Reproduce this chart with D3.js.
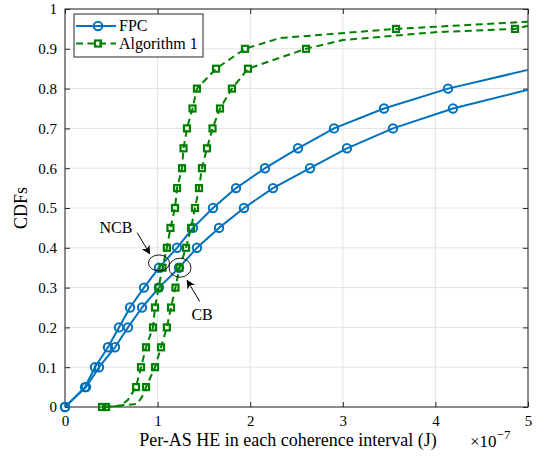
<!DOCTYPE html>
<html>
<head>
<meta charset="utf-8">
<script src="https://cdn.jsdelivr.net/npm/d3@7"></script>
<style>
  html, body { margin: 0; padding: 0; background: #fff; }
  svg { display: block; font-family: "Liberation Serif", "Times New Roman", serif; }
</style>
</head>
<body>
<svg id="chart" width="539" height="461"></svg>
<script>
// Per-AS harvested energy (x, in units of 1e-7 J) and CDF value (p).
// Markers sit on the 0.05 CDF levels; other points only shape the curve.
const fpcNcbX = [0, 0.216, 0.324, 0.464, 0.583, 0.702, 0.853, 1.015, 1.21, 1.382, 1.598, 1.847, 2.16, 2.516, 2.905, 3.445, 4.136, 5.0];
const fpcNcbP = [0, 0.05, 0.10, 0.15, 0.20, 0.25, 0.30, 0.35, 0.40, 0.45, 0.50, 0.55, 0.60, 0.65, 0.70, 0.75, 0.80, 0.847];

const fpcCbX = [0, 0.227, 0.367, 0.54, 0.68, 0.832, 1.015, 1.231, 1.425, 1.663, 1.933, 2.246, 2.646, 3.045, 3.542, 4.19, 5.0];
const fpcCbP = [0, 0.05, 0.10, 0.15, 0.20, 0.25, 0.30, 0.35, 0.40, 0.45, 0.50, 0.55, 0.60, 0.65, 0.70, 0.75, 0.797];

const algNcbX = [0.40, 0.594, 0.68, 0.767, 0.821, 0.875, 0.95, 0.972, 1.01, 1.053, 1.10, 1.139, 1.188, 1.21, 1.264, 1.28, 1.317, 1.377, 1.425, 1.631, 1.944, 2.32, 3.575, 5.0];
const algNcbP = [0, 0.0025, 0.018, 0.05, 0.10, 0.15, 0.20, 0.25, 0.30, 0.35, 0.40, 0.45, 0.50, 0.55, 0.60, 0.65, 0.70, 0.75, 0.80, 0.85, 0.90, 0.927, 0.95, 0.968];

const algCbX = [0.443, 0.778, 0.83, 0.875, 0.972, 1.037, 1.10, 1.145, 1.193, 1.236, 1.307, 1.361, 1.404, 1.447, 1.479, 1.533, 1.593, 1.674, 1.803, 1.976, 2.603, 3.002, 4.017, 4.86, 5.0];
const algCbP = [0, 0.008, 0.025, 0.05, 0.10, 0.15, 0.20, 0.25, 0.30, 0.35, 0.40, 0.45, 0.50, 0.55, 0.60, 0.65, 0.70, 0.75, 0.80, 0.85, 0.90, 0.922, 0.942, 0.95, 0.958];

const xTicks = [0, 1, 2, 3, 4, 5];
const yTicks = [0, 0.1, 0.2, 0.3, 0.4, 0.5, 0.6, 0.7, 0.8, 0.9, 1];
const legendLabels = ["FPC", "Algorithm 1"];

const svg = d3.select("#chart");
const W = 539, H = 461;
const m = { left: 65, top: 9, right: 11, bottom: 54 };
const x = d3.scaleLinear().domain([0, 5]).range([m.left, W - m.right]);
const y = d3.scaleLinear().domain([0, 1]).range([H - m.bottom, m.top]);

const axisColor = "#262626";
const gridColor = "#e3e3e3";
const blue = "#0072BD";
const green = "#008000";
const tickFont = 15;
const textFont = 16;
const titleFont = 18;

// grid
const grid = svg.append("g");
grid.selectAll(".gx").data(xTicks).join("line")
  .attr("x1", d => x(d)).attr("x2", d => x(d))
  .attr("y1", y(0)).attr("y2", y(1))
  .attr("stroke", gridColor).attr("stroke-width", 1);
grid.selectAll(".gy").data(yTicks).join("line")
  .attr("x1", x(0)).attr("x2", x(5))
  .attr("y1", d => y(d)).attr("y2", d => y(d))
  .attr("stroke", gridColor).attr("stroke-width", 1);

// axes with inward ticks on all four sides
const tickLen = 5;
const fmtY = d => d === 0 ? "0" : (d === 1 ? "1" : d3.format(".1f")(d));
const axB = svg.append("g").attr("transform", `translate(0,${y(0)})`)
  .call(d3.axisBottom(x).tickValues(xTicks).tickSizeInner(-tickLen).tickSizeOuter(0).tickPadding(8).tickFormat(d3.format("d")));
const axT = svg.append("g").attr("transform", `translate(0,${y(1)})`)
  .call(d3.axisTop(x).tickValues(xTicks).tickSizeInner(-tickLen).tickSizeOuter(0).tickFormat(""));
const axL = svg.append("g").attr("transform", `translate(${x(0)},0)`)
  .call(d3.axisLeft(y).tickValues(yTicks).tickSizeInner(-tickLen).tickSizeOuter(0).tickPadding(8).tickFormat(fmtY));
const axR = svg.append("g").attr("transform", `translate(${x(5)},0)`)
  .call(d3.axisRight(y).tickValues(yTicks).tickSizeInner(-tickLen).tickSizeOuter(0).tickFormat(""));
[axB, axT, axL, axR].forEach(g => {
  g.select(".domain").remove();
  g.selectAll("line").attr("stroke", axisColor).attr("stroke-width", 1);
  g.selectAll("text").attr("fill", "#000").style("font-size", tickFont + "px")
    .style("font-family", '"Liberation Serif", serif');
});
svg.append("rect").attr("x", x(0)).attr("y", y(1))
  .attr("width", x(5) - x(0)).attr("height", y(0) - y(1))
  .attr("fill", "none").attr("stroke", axisColor).attr("stroke-width", 1);

// curves
const series = [
  { xs: fpcNcbX, ps: fpcNcbP, color: blue, dash: null, marker: "circle" },
  { xs: fpcCbX, ps: fpcCbP, color: blue, dash: null, marker: "circle" },
  { xs: algNcbX, ps: algNcbP, color: green, dash: "7,4.5", marker: "square" },
  { xs: algCbX, ps: algCbP, color: green, dash: "7,4.5", marker: "square" }
];
const line = d3.line().x(d => x(d[0])).y(d => y(d[1]));
const isLevel = p => Math.abs(p * 20 - Math.round(p * 20)) < 1e-6;

const plot = svg.append("g");
series.forEach(s => {
  const pts = s.xs.map((v, i) => [v, s.ps[i]]);
  plot.append("path").datum(pts).attr("d", line)
    .attr("fill", "none").attr("stroke", s.color).attr("stroke-width", 2)
    .attr("stroke-dasharray", s.dash).attr("stroke-linejoin", "round");
  const mk = pts.filter(d => isLevel(d[1]));
  if (s.marker === "circle") {
    plot.selectAll(null).data(mk).join("circle")
      .attr("cx", d => x(d[0])).attr("cy", d => y(d[1])).attr("r", 4.2)
      .attr("fill", "none").attr("stroke", s.color).attr("stroke-width", 2);
  } else {
    plot.selectAll(null).data(mk).join("rect")
      .attr("x", d => x(d[0]) - 3).attr("y", d => y(d[1]) - 3)
      .attr("width", 6).attr("height", 6)
      .attr("fill", "none").attr("stroke", s.color).attr("stroke-width", 2.2);
  }
});

// annotations
const ann = svg.append("g");
const defs = svg.append("defs");
defs.append("marker").attr("id", "ah").attr("viewBox", "0 0 10 10")
  .attr("refX", 9).attr("refY", 5).attr("markerWidth", 9).attr("markerHeight", 9)
  .attr("orient", "auto-start-reverse").attr("markerUnits", "userSpaceOnUse")
  .append("path").attr("d", "M0,0 L10,5 L0,10 L3,5 Z").attr("fill", "#000");

ann.append("ellipse").attr("cx", x(1.015)).attr("cy", y(0.362))
  .attr("rx", 10.5).attr("ry", 8).attr("fill", "none").attr("stroke", "#000").attr("stroke-width", 0.9);
ann.append("ellipse").attr("cx", x(1.242)).attr("cy", y(0.350))
  .attr("rx", 11).attr("ry", 9.5).attr("fill", "none").attr("stroke", "#000").attr("stroke-width", 0.9);
ann.append("line").attr("x1", x(0.78)).attr("y1", y(0.438))
  .attr("x2", x(0.915)).attr("y2", y(0.385))
  .attr("stroke", "#000").attr("stroke-width", 1).attr("marker-end", "url(#ah)");
ann.append("line").attr("x1", x(1.455)).attr("y1", y(0.265))
  .attr("x2", x(1.32)).attr("y2", y(0.318))
  .attr("stroke", "#000").attr("stroke-width", 1).attr("marker-end", "url(#ah)");
ann.append("text").attr("x", x(0.55)).attr("y", y(0.436))
  .attr("text-anchor", "middle").style("font-size", textFont + "px").text("NCB");
ann.append("text").attr("x", x(1.48)).attr("y", y(0.218))
  .attr("text-anchor", "middle").style("font-size", textFont + "px").text("CB");

// axis titles
svg.append("text").attr("x", 288).attr("y", 446)
  .attr("text-anchor", "middle").style("font-size", titleFont + "px")
  .text("Per-AS HE in each coherence interval (J)");
const sci = svg.append("text").attr("x", 470).attr("y", 447).style("font-size", "17px");
sci.append("tspan").text("×10");
sci.append("tspan").attr("dy", -8).style("font-size", "13px").text("−7");
svg.append("text").attr("transform", `translate(27,${(y(0) + y(1)) / 2}) rotate(-90)`)
  .attr("text-anchor", "middle").style("font-size", titleFont + "px").text("CDFs");

// legend
const lg = svg.append("g").attr("transform", "translate(74,14)");
lg.append("rect").attr("width", 129).attr("height", 43)
  .attr("fill", "#fff").attr("stroke", axisColor).attr("stroke-width", 1);
const legendSeries = [series[0], series[2]];
legendLabels.forEach((lab, i) => {
  const s = legendSeries[i];
  const ly = 12 + i * 17.5;
  lg.append("line").attr("x1", 2).attr("x2", 42).attr("y1", ly).attr("y2", ly)
    .attr("stroke", s.color).attr("stroke-width", 2).attr("stroke-dasharray", s.dash);
  if (s.marker === "circle") {
    lg.append("circle").attr("cx", 24).attr("cy", ly).attr("r", 4.2)
      .attr("fill", "none").attr("stroke", s.color).attr("stroke-width", 2);
  } else {
    lg.append("rect").attr("x", 21).attr("y", ly - 3).attr("width", 6).attr("height", 6)
      .attr("fill", "none").attr("stroke", s.color).attr("stroke-width", 2.2);
  }
  lg.append("text").attr("x", 45).attr("y", ly + 5).style("font-size", textFont + "px").text(lab);
});
</script>
</body>
</html>
